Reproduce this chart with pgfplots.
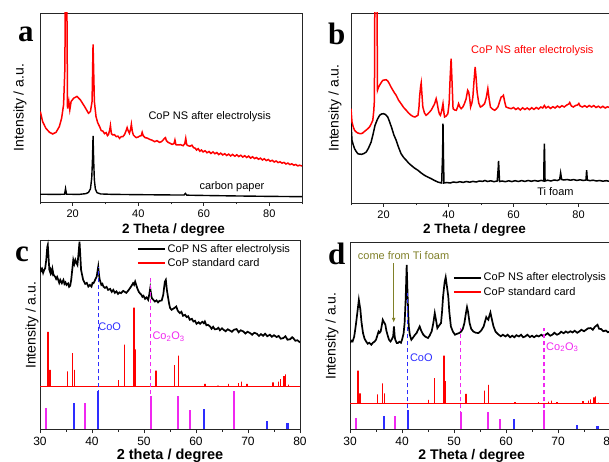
\documentclass[border=0pt]{standalone}
\usepackage{fontspec}
\setmainfont{Liberation Sans}
\newfontfamily\letterfont{Liberation Serif}
\usepackage{pgfplots}
\pgfplotsset{compat=1.18}
\usetikzlibrary{arrows.meta}
\definecolor{myred}{RGB}{255,0,0}
\definecolor{myblue}{RGB}{45,45,255}
\definecolor{mymag}{RGB}{240,40,240}
\definecolor{myolive}{RGB}{128,128,40}
\tikzset{txt/.style={font=\fontsize{11}{12}\selectfont}}
\pgfplotsset{
  panel/.style={
    scale only axis, clip=true, anchor=south west,
    axis line style={line width=0.9pt, black!85},
    ytick=\empty, ymin=0,
    xtick pos=bottom, tick align=outside,
    every tick/.style={black!85, line width=0.9pt},
    major tick length=4pt, minor tick length=2.5pt,
    /pgf/number format/assume math mode=true,
    ylabel={Intensity / a.u.},
    ylabel style={anchor=center, font=\fontsize{14}{14}\selectfont},
    xlabel style={anchor=base, font=\bfseries\fontsize{13.5}{14}\selectfont},
  },
  leg/.style={
    legend style={draw=none, fill=none, anchor=north west,
      font=\fontsize{11}{12}\selectfont, row sep=1pt, inner sep=0pt},
    legend cell align=left,
    legend image code/.code={\draw plot coordinates {(0pt,0pt) (27pt,0pt)};},
    legend image post style={line width=1.8pt},
  },
}
\begin{document}
\begin{tikzpicture}
% ---------------- panel a
\begin{axis}[panel, at={(40pt,260pt)}, width=262pt, height=189pt,
  xmin=10, xmax=90, ymax=188,
  xtick={20,40,60,80}, minor xtick={10,30,50,70,90},
  ticklabel style={font=\fontsize{11}{11}\selectfont},
  xlabel={2 Theta / degree},
  xlabel style={at={(axis description cs:0.51,0)}, yshift=-32pt},
  ylabel style={at={(axis description cs:-0.076,0.5)}}]
\addplot[myred, line width=1.5pt] coordinates {
(10.1,90) (10.8,80) (11.8,73.3) (12.9,69.3) (13.9,67.7) (14.9,69.3) (15.9,75) (16.6,83.3) (17.2,96.7) (17.6,133) (17.8,260) (18.1,260) (18.4,93) (18.8,100) (19.1,91.7) (19.5,100) (20.3,103.3) (21.3,105) (22.3,101.7) (23.6,95) (24.8,88.3) (25.4,90) (25.9,100) (26.2,156.7) (26.6,100) (27.1,85) (27.6,79) (28.2,75) (28.7,71) (29.2,70.5) (29.7,68) (30.2,69) (30.6,66) (30.9,67) (31.3,72) (31.5,76) (31.8,68) (32.2,66.7) (32.7,67) (33.3,65) (33.8,65.5) (34.3,63.3) (34.8,65) (35.3,65) (35.8,67) (36.3,71) (36.6,74) (36.9,71) (37.3,68.3) (37.7,73) (37.9,77.3) (38.2,70) (38.5,66.7) (39.0,65) (39.4,64) (39.9,64.5) (40.4,65.5) (40.9,66) (41.2,69.3) (41.5,66) (42.1,64) (42.8,63.5) (43.5,62.3) (44.2,61.5) (45.0,60) (45.7,61) (46.5,59.3) (47.1,60) (47.6,61.7) (48.0,63.3) (48.3,64) (48.6,61) (49.1,59.3) (49.7,58.5) (50.3,57.3) (50.9,58) (51.2,61.7) (51.5,57) (52.1,56.7) (52.9,57) (53.7,56) (54.2,58) (54.5,63.3) (54.8,57) (55.2,56) (55.8,55.5) (56.4,56.5) (56.9,54) (57.4,53.5) (57.8,51.7) (58.3,53) (58.8,50.5) (59.3,51.7) (59.8,49.8) (60.4,51) (61.0,49) (61.6,50.2) (62.2,48.3) (62.8,49.8) (63.4,48) (64.0,49.2) (64.6,47.2) (65.2,48.6) (65.8,46.8) (66.4,48) (67.0,46.3) (67.6,47.6) (68.2,45.8) (68.8,47.3) (69.5,45.5) (70.1,47) (70.7,45.2) (71.3,46.5) (71.9,44.7) (72.5,46) (73.1,44.3) (73.7,45.6) (74.3,43.6) (74.9,45) (75.5,43.2) (76.1,44.2) (76.7,42.5) (77.3,43.6) (77.9,41.8) (78.5,43) (79.1,41.2) (79.7,42.3) (80.3,40.5) (80.9,41.5) (81.5,39.8) (82.1,40.8) (82.7,39.2) (83.3,40) (83.9,38.6) (84.5,39.4) (85.1,37.8) (85.7,38.7) (86.3,37.2) (86.9,38) (87.5,36.6) (88.1,37.3) (88.7,35.9) (89.3,36.6) (90.0,35.8)};
\addplot[black, line width=1.4pt] coordinates {
(10,7.7) (15,7.6) (17.5,7.7) (17.8,13.3) (18.1,7.7) (22,7.6) (24.0,8.3) (24.8,9.5) (25.4,13) (25.8,24) (26.0,40) (26.2,65.7) (26.4,40) (26.6,22) (26.9,13) (27.4,9.3) (28.5,8) (32,7.6) (40,7.3) (50,7) (54.0,7) (54.4,8.5) (54.8,6.8) (60,6.5) (70,6) (80,5.6) (90,5.3)};
\node[txt] at (axis cs:61.8,85) {CoP NS after electrolysis};
\node[txt] at (axis cs:68.6,15.7) {carbon paper};
\end{axis}
% ---------------- panel b
\begin{axis}[panel, at={(351pt,259pt)}, width=260pt, height=190pt,
  xmin=10, xmax=90, ymax=190,
  xtick={20,40,60,80}, minor xtick={10,30,50,70,90},
  ticklabel style={font=\fontsize{11}{11}\selectfont},
  xlabel={2 Theta / degree},
  xlabel style={at={(axis description cs:0.475,0)}, yshift=-31pt},
  ylabel style={at={(axis description cs:-0.062,0.5)}}]
\addplot[myred, line width=1.5pt] coordinates {
(10,94.3) (10.3,81) (10.7,76) (11.1,72.7) (11.6,71) (12.1,70) (12.6,69.5) (13.1,69.3) (13.6,70) (14.2,71.7) (14.9,73.5) (15.7,76) (16.2,79) (16.7,82.7) (17.0,92) (17.2,102.7) (17.4,260) (17.9,260) (18.15,112.7) (18.5,116) (18.8,117.7) (19.3,120.5) (19.8,122.7) (20.3,123) (20.8,123.3) (21.3,122) (21.8,119.3) (22.3,116) (22.9,112.7) (23.4,110) (23.9,107.7) (24.6,103) (25.4,99.3) (26.2,95.5) (27.0,92.7) (27.7,90) (28.5,87.7) (29.1,86.5) (29.7,86) (30.2,87) (30.6,87.7) (30.9,95) (31.1,106) (31.4,116) (31.6,120) (31.8,110) (32.1,96) (32.6,90) (33.1,87.7) (33.6,89) (34.2,91) (34.7,93) (35.2,96) (35.7,99) (36.2,104.3) (36.5,100) (36.9,92.7) (37.2,89) (37.5,87.7) (37.9,92) (38.3,99.3) (38.6,90) (38.8,86) (39.3,87) (39.8,89.3) (40.2,100) (40.5,125) (40.8,144.3) (41.1,120) (41.4,94.3) (41.9,93) (42.4,92.7) (42.8,96) (43.1,99.3) (43.5,96) (43.9,94.3) (44.4,96) (44.9,99.3) (45.4,104) (45.9,112.7) (46.2,111) (46.5,105) (46.8,96) (47.2,100) (47.5,106) (47.8,120) (48.2,136) (48.5,125) (48.8,111) (49.3,100) (49.8,96) (50.4,97) (51.1,99.3) (51.6,105) (52.1,114.3) (52.5,104) (52.9,96) (53.5,94) (54.2,92.7) (54.7,94) (55.2,96) (55.7,101) (56.2,106) (56.6,106.5) (56.9,107.7) (57.3,101) (57.7,96) (58.5,95) (59.3,94.3) (60.0,95.5) (60.7,93.5) (61.4,95) (62.1,93) (62.8,95.2) (63.5,93.5) (64.2,95) (64.9,93.3) (65.6,95.3) (66.3,93.6) (67.0,95.5) (67.7,94) (68.4,96) (69.0,95) (69.5,97.5) (70.0,95) (70.7,96.5) (71.4,94.5) (72.1,96.3) (72.8,95) (73.5,97) (74.2,95.5) (74.9,97.3) (75.6,96) (76.3,97.8) (77.0,99) (77.3,100.5) (77.8,97) (78.4,96) (79.1,97.5) (79.7,98) (80.1,99.5) (80.5,97) (81.2,96) (81.9,97.3) (82.6,95.8) (83.3,97.5) (84.0,96) (84.7,97.4) (85.4,95.5) (86.1,96.8) (86.8,95.2) (87.5,96.7) (88.2,95) (88.9,96.2) (89.6,95.4) (90.0,96)};
\addplot[black, line width=1.5pt] coordinates {
(10,79.3) (10.3,62.7) (10.7,58) (11.1,54.3) (11.6,51.5) (12.1,49.3) (12.7,48.8) (13.3,48.7) (14.0,49.5) (14.7,51) (15.4,55) (16.2,61) (16.8,69) (17.4,77.7) (18.1,83.5) (18.8,87.7) (19.4,89) (20.0,89.3) (20.6,88.5) (21.3,86) (21.9,81) (22.6,74.3) (23.2,68) (23.9,62.7) (24.6,56) (25.4,49.3) (26.2,45.5) (27.0,42.7) (27.7,40) (28.5,37.7) (29.5,35) (30.6,32.7) (31.6,30) (32.6,27.7) (33.6,26) (34.7,24.3) (35.7,22.5) (36.7,21) (37.4,20.3) (37.9,20) (38.2,50) (38.3,79.3) (38.45,45) (38.6,20) (39.5,20.5) (40.5,20) (41.5,21) (42.5,20.5) (43.5,21.3) (44.5,20.6) (45.5,21.5) (46.5,20.8) (47.5,21.6) (48.5,21) (49.5,22) (50.5,21.6) (51.2,22.5) (52,21.5) (53,22.2) (54,21.3) (55,22) (55.3,35) (55.4,42) (55.5,35) (55.7,21.5) (56.5,22) (57.5,21.3) (58.5,22.2) (59.5,21.4) (60.5,22.3) (61.5,21.5) (62.5,22.4) (63.5,21.6) (64.5,22.5) (65.5,21.7) (66.5,22.5) (67.5,21.8) (68.5,22.6) (69.3,22) (69.4,45) (69.5,59.3) (69.6,45) (69.7,22) (70.5,22.8) (71.5,22) (72.5,23) (73.5,22.5) (74.2,23.5) (74.5,30) (74.8,23.5) (75.5,23) (76.5,23.5) (77.5,22.8) (78.5,23.4) (79.5,22.6) (80.5,23.2) (81.5,22.5) (82.3,23) (82.5,32.7) (82.7,23) (83.5,22.3) (84.5,22.8) (85.5,22) (86.5,22.5) (87.5,21.8) (88.5,22.3) (89.5,21.7) (90,22)};
\node[txt, text=myred] at (axis cs:65.8,152) {CoP NS after electrolysis};
\node[txt] at (axis cs:72.9,11) {Ti foam};
\end{axis}
% ---------------- panel c
\begin{axis}[panel, leg, at={(40pt,32.5pt)}, width=260pt, height=189.5pt,
  xmin=30, xmax=80, ymax=190,
  xtick={30,40,50,60,70,80}, minor tick num=1,
  ticklabel style={font=\fontsize{12}{12}\selectfont},
  xlabel={2 theta / degree},
  xlabel style={at={(axis description cs:0.5,0)}, yshift=-30pt, font=\bfseries\fontsize{14.5}{15}\selectfont},
  ylabel style={at={(axis description cs:-0.031,0.55)}},
  legend style={at={(0.372,0.99)}}]
\addplot[black, line width=1.7pt] coordinates {
(30.0,163.3) (30.2,159) (30.4,161) (30.6,157) (30.8,160) (31.0,161.7) (31.2,170) (31.4,183) (31.5,185) (31.7,168) (31.8,160) (32.0,157) (32.1,160) (32.3,157) (32.4,160.7) (32.6,155) (32.9,153.3) (33.1,151) (33.3,153) (33.5,150) (33.7,147) (33.9,150) (34.2,146.7) (34.4,149) (34.5,150) (34.7,146) (34.9,147.5) (35.1,145) (35.4,146.5) (35.6,143) (35.8,144) (36.0,150) (36.2,160) (36.4,170) (36.6,166) (36.8,170) (37.0,167) (37.2,165) (37.4,176) (37.6,188.3) (37.8,170) (37.9,160) (38.1,155) (38.3,150) (38.5,148) (38.7,146) (39.0,147) (39.3,143.3) (39.6,145) (39.9,143.3) (40.1,147) (40.3,146.7) (40.6,150) (40.9,153.3) (41.1,160) (41.2,163.3) (41.35,155) (41.5,150) (41.8,145) (42.0,146) (42.2,143.3) (42.5,142) (42.8,143) (43.1,140) (43.5,141) (43.8,138) (44.1,140) (44.4,137) (44.7,138.5) (45.0,136) (45.3,137.5) (45.6,136.7) (46.0,139) (46.3,138) (46.6,137) (47.0,139.5) (47.3,141.7) (47.6,144) (47.9,146.7) (48.1,145) (48.3,148.3) (48.5,145) (48.7,141.7) (49.0,138) (49.2,136.7) (49.5,135) (49.7,133) (49.9,134) (50.2,131) (50.5,132.5) (50.8,130) (51.0,135) (51.2,141.7) (51.35,136) (51.5,131.7) (51.8,130) (52.1,128.3) (52.4,129.5) (52.7,127.5) (53.0,129) (53.4,129.3) (53.7,135) (54.0,148) (54.2,150) (54.4,140) (54.6,133.3) (54.8,127) (55.0,122) (55.3,120) (55.6,121) (55.9,122) (56.2,123.3) (56.5,119) (56.9,116.7) (57.2,118) (57.5,114) (57.9,115) (58.2,112.7) (58.5,113.5) (58.8,110) (59.2,111) (59.5,108.3) (59.8,109) (60.1,106) (60.5,107.5) (60.8,106) (61.2,108) (61.5,106.5) (61.7,108.3) (62.0,104.5) (62.3,105) (62.7,103.3) (63.0,101) (63.3,103) (63.6,100.5) (64.0,100.7) (64.3,102) (64.6,99.5) (65.0,101.5) (65.3,100) (65.7,98.5) (66.1,100.5) (66.5,99.3) (66.9,98) (67.3,100) (67.8,100.7) (68.2,97.5) (68.6,99.5) (69.1,98.3) (69.5,96.2) (69.9,98) (70.4,96.7) (70.8,95) (71.2,97) (71.7,96) (72.1,93.8) (72.5,95.6) (72.9,94) (73.3,96) (73.7,93.5) (74.2,95) (74.6,93) (75.0,94.5) (75.5,92.7) (75.9,93.8) (76.3,91) (76.8,91.7) (77.2,93.5) (77.6,90) (78.1,90.5) (78.5,92.5) (78.7,91.7) (79.1,89) (79.5,89.5) (80.0,87.3)};
\addlegendentry{CoP NS after electrolysis}
\addplot[myred, line width=1.4pt] coordinates {
(30,43.3) (31.5,43.3) (31.5,97.8) (31.5,43.3) (31.9,43.3) (31.9,59.9) (31.9,43.3) (35.3,43.3) (35.3,58.3) (35.3,43.3) (36.2,43.3) (36.2,76.5) (36.2,43.3) (36.6,43.3) (36.6,59.9) (36.6,43.3) (45.1,43.3) (45.1,49.6) (45.1,43.3) (46.2,43.3) (46.2,85.2) (46.2,43.3) (48.1,43.3) (48.1,122.3) (48.1,43.3) (48.4,43.3) (48.4,80.4) (48.4,43.3) (52.3,43.3) (52.3,59.1) (52.3,43.3) (55.9,43.3) (55.9,64.6) (55.9,43.3) (56.6,43.3) (56.6,74.1) (56.6,43.3) (61.7,43.3) (61.7,45.7) (61.7,43.3) (64.2,43.3) (64.2,44.1) (64.2,43.3) (66.2,43.3) (66.2,45.7) (66.2,43.3) (68.2,43.3) (68.2,46.5) (68.2,43.3) (68.8,43.3) (68.8,48) (68.8,43.3) (69.8,43.3) (69.8,45.7) (69.8,43.3) (74.8,43.3) (74.8,47.3) (74.8,43.3) (75.9,43.3) (75.9,48) (75.9,43.3) (76.3,43.3) (76.3,50.4) (76.3,43.3) (76.9,43.3) (76.9,53.6) (76.9,43.3) (77.2,43.3) (77.2,55.2) (77.2,43.3) (77.8,43.3) (77.8,44.9) (77.8,43.3) (80,43.3)};
\addlegendentry{CoP standard card}
\addplot[myblue, line width=1.3pt, dash pattern=on 4pt off 3pt, forget plot] coordinates {(41.2,0) (41.2,163)};
\addplot[mymag, line width=1.3pt, dash pattern=on 4pt off 3pt, forget plot] coordinates {(51.3,0) (51.3,153.3)};
\addplot[myblue, ycomb, line width=2.3pt, forget plot] coordinates {(36.5,26.9) (41.2,39) (61.5,20.3) (73.6,9) (77.6,6.2)};
\addplot[mymag, ycomb, line width=2.3pt, forget plot] coordinates {(31.1,21.8) (38.7,26.1) (51.3,33.9) (56.5,33.5) (58.8,19.9) (67.3,39)};
\node[txt, text=myblue, anchor=west, inner sep=0pt] at (axis cs:41.2,103.3) {CoO};
\node[txt, text=mymag, anchor=west, inner sep=0pt] at (axis cs:51.6,93.3) {Co\textsubscript{2}O\textsubscript{3}};
\end{axis}
% ---------------- panel d
\begin{axis}[panel, leg, at={(350pt,32.5pt)}, width=260pt, height=186.8pt,
  xmin=30, xmax=80, ymax=187.3,
  xtick={30,40,50,60,70,80}, minor tick num=1,
  ticklabel style={font=\fontsize{12}{12}\selectfont},
  xlabel={2 Theta / degree},
  xlabel style={at={(axis description cs:0.468,0)}, yshift=-30pt, font=\bfseries\fontsize{14}{14}\selectfont},
  ylabel style={at={(axis description cs:-0.069,0.5)}},
  legend style={at={(0.395,0.85)}}]
\addplot[black, line width=1.7pt] coordinates {
(30.0,86.7) (30.3,89) (30.5,88.3) (30.8,93) (31.0,100) (31.2,108) (31.4,116.7) (31.7,130) (32.0,120) (32.2,108) (32.5,96.7) (32.8,91) (33.1,88.3) (33.4,86) (33.7,87) (34.1,85) (34.4,87) (34.7,88) (35.0,90) (35.3,95) (35.5,98.3) (35.7,97) (35.9,98.3) (36.1,104) (36.3,110) (36.5,108) (36.8,105) (37.0,99) (37.3,93.3) (37.5,90) (37.8,88.3) (38.0,90) (38.3,93.3) (38.45,103.3) (38.6,93) (38.7,90) (39.0,86.7) (39.2,86.7) (39.5,88) (39.8,87) (40.0,90) (40.3,96) (40.5,106.7) (40.7,130) (40.9,165) (41.1,130) (41.3,103.3) (41.5,95) (41.8,90) (42.1,92) (42.5,95) (42.8,96.7) (43.1,100) (43.4,103.3) (43.7,99) (44.1,95) (44.5,93) (45.0,91.7) (45.3,94) (45.7,98.3) (46.0,106) (46.3,116.7) (46.6,108) (46.8,101.7) (47.1,104) (47.5,106.7) (47.7,118) (47.9,133.3) (48.2,148) (48.4,152.7) (48.6,145) (48.9,133.3) (49.1,118) (49.4,103.3) (49.8,98) (50.2,95) (50.6,96) (51.0,96.7) (51.4,98.3) (51.7,101) (52.0,106.7) (52.3,117) (52.5,122.7) (52.7,118) (53.0,106.7) (53.3,101) (53.7,98.3) (54.2,97) (54.7,96.7) (55.2,99) (55.7,103.3) (56.0,109) (56.2,112.7) (56.4,111) (56.6,110) (56.8,114) (57.0,117.3) (57.3,110) (57.6,103.3) (58.0,98) (58.3,96.5) (58.6,95) (59.0,93.5) (59.4,95) (59.9,93.3) (60.3,95) (60.8,92.5) (61.2,94) (61.6,92.5) (62.0,94.5) (62.5,93.3) (62.9,95) (63.3,92.5) (63.7,93.3) (64.1,95) (64.6,92.7) (65.0,94) (65.4,92.5) (65.9,94.3) (66.3,93.3) (66.8,95) (67.2,93.5) (67.6,95) (68.0,96.5) (68.5,94) (68.9,95) (69.3,97) (69.8,95) (70.2,96) (70.6,98) (71.1,96.5) (71.5,98.3) (71.9,97) (72.4,98.5) (72.8,97.3) (73.2,99) (73.7,97) (74.1,98.3) (74.5,100) (75.0,98.5) (75.4,100) (75.8,101.5) (76.3,101.7) (76.7,100) (77.1,103) (77.6,105) (77.9,101) (78.3,100.7) (78.7,98.5) (79.2,99.3) (79.6,97.5) (80.0,98.3)};
\addlegendentry{CoP NS after electrolysis}
\addplot[myred, line width=1.4pt] coordinates {
(30,26) (31.5,26) (31.5,59.1) (31.5,26) (31.9,26) (31.9,36.1) (31.9,26) (35.3,26) (35.3,35.1) (35.3,26) (36.2,26) (36.2,46.2) (36.2,26) (36.6,26) (36.6,36.1) (36.6,26) (45.1,26) (45.1,29.8) (45.1,26) (46.2,26) (46.2,51.4) (46.2,26) (48.1,26) (48.1,74) (48.1,26) (48.4,26) (48.4,48.6) (48.4,26) (52.3,26) (52.3,35.6) (52.3,26) (55.9,26) (55.9,39) (55.9,26) (56.6,26) (56.6,44.7) (56.6,26) (61.7,26) (61.7,27.4) (61.7,26) (64.2,26) (64.2,26.5) (64.2,26) (66.2,26) (66.2,27.4) (66.2,26) (68.2,26) (68.2,27.9) (68.2,26) (68.8,26) (68.8,28.9) (68.8,26) (69.8,26) (69.8,27.4) (69.8,26) (74.8,26) (74.8,28.4) (74.8,26) (75.9,26) (75.9,28.9) (75.9,26) (76.3,26) (76.3,30.3) (76.3,26) (76.9,26) (76.9,32.2) (76.9,26) (77.2,26) (77.2,33.2) (77.2,26) (77.8,26) (77.8,27) (77.8,26) (80,26)};
\addlegendentry{CoP standard card}
\addplot[myblue, line width=1.3pt, dash pattern=on 4pt off 3pt, forget plot] coordinates {(41.1,0) (41.1,136.7)};
\addplot[mymag, line width=1.3pt, dash pattern=on 4pt off 3pt, forget plot] coordinates {(51.3,0) (51.3,101.7)};
\addplot[mymag, line width=1.3pt, dash pattern=on 4pt off 3pt, forget plot] coordinates {(67.3,0) (67.3,101.7)};
\addplot[myblue, ycomb, line width=2.3pt, forget plot] coordinates {(36.5,13.8) (41.2,20) (61.5,10.4) (73.6,4.6) (77.6,3.2)};
\addplot[mymag, ycomb, line width=2.3pt, forget plot] coordinates {(31.1,11.2) (38.7,13.4) (51.3,17.4) (56.5,17.2) (58.8,10.2) (67.3,20)};
\node[txt, text=myblue, anchor=west, inner sep=0pt] at (axis cs:41.5,71.7) {CoO};
\node[txt, text=mymag, anchor=west, inner sep=0pt] at (axis cs:67.7,82.7) {Co\textsubscript{2}O\textsubscript{3}};
\node[txt, text=myolive] at (axis cs:40.3,174) {come from Ti foam};
\draw[myolive, line width=1pt, -{Latex[length=5pt,width=4pt]}] (axis cs:38.4,166.7) -- (axis cs:38.4,107);
\end{axis}
% panel letters
\node[anchor=base west, inner sep=0pt, font=\letterfont\bfseries\fontsize{31}{31}\selectfont] at (18pt,420.5pt) {a};
\node[anchor=base west, inner sep=0pt, font=\letterfont\bfseries\fontsize{31}{31}\selectfont] at (328pt,417pt) {b};
\node[anchor=base west, inner sep=0pt, font=\letterfont\bfseries\fontsize{31}{31}\selectfont] at (15pt,200.5pt) {c};
\node[anchor=base west, inner sep=0pt, font=\letterfont\bfseries\fontsize{31}{31}\selectfont] at (328pt,197pt) {d};
\pgfresetboundingbox
\path[use as bounding box] (0pt,0pt) rectangle (609pt,462pt);
\end{tikzpicture}
\end{document}
